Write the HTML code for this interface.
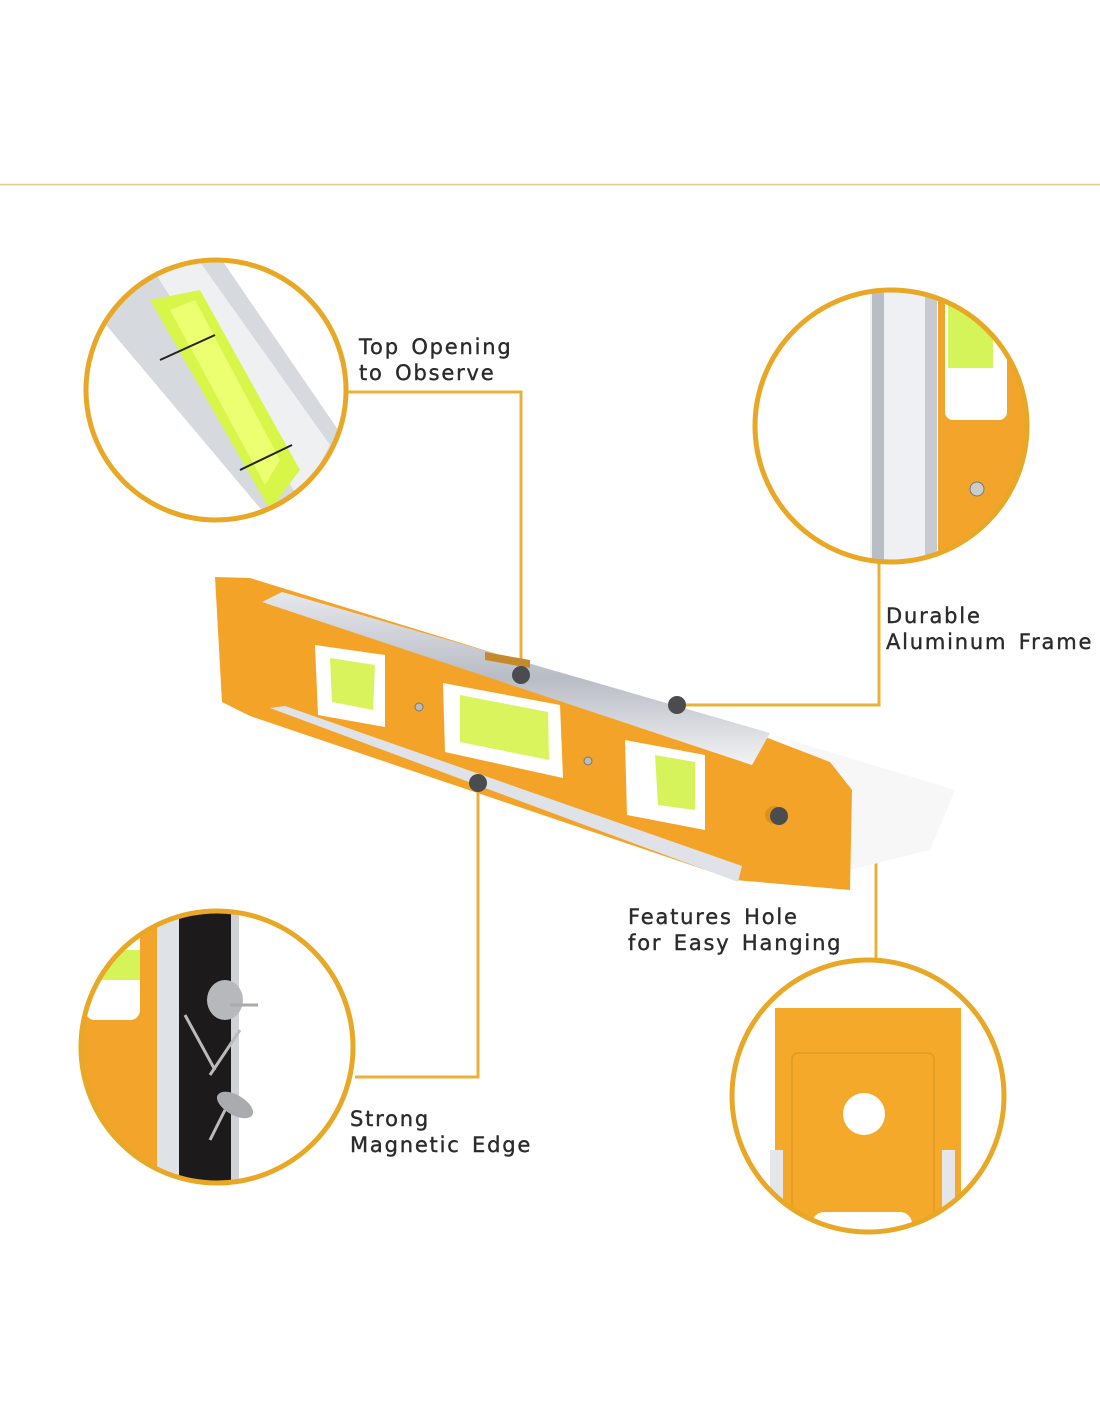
<!DOCTYPE html>
<html><head><style>
html,body{margin:0;padding:0;background:#fff;}
svg{display:block}
text{font-family:"DejaVu Sans","Liberation Sans",sans-serif;font-size:21px;fill:#2b2b2b;stroke:#2b2b2b;stroke-width:0.4;letter-spacing:1.8px;word-spacing:3px}
</style></head><body>
<svg width="1100" height="1422" viewBox="0 0 1100 1422" xmlns="http://www.w3.org/2000/svg">
<defs>
<clipPath id="c1"><circle cx="216" cy="390" r="130"/></clipPath>
<clipPath id="c2"><circle cx="891" cy="426" r="136"/></clipPath>
<clipPath id="c3"><circle cx="217" cy="1047" r="136"/></clipPath>
<clipPath id="c4"><circle cx="868" cy="1096" r="136"/></clipPath>
<linearGradient id="sil" x1="0" y1="0" x2="0" y2="1"><stop offset="0" stop-color="#e6e8ec"/><stop offset="0.5" stop-color="#b8bcc4"/><stop offset="1" stop-color="#f2f3f5"/></linearGradient>
</defs>
<line x1="0" y1="184.5" x2="1100" y2="184.5" stroke="#ecc88a" stroke-width="1.5"/>

<g fill="none" stroke="#eab13a" stroke-width="3">
<polyline points="347,392 521,392 521,675"/>
<polyline points="677,705 879,705 879,563"/>
<polyline points="478,783 478,1077 355,1077"/>
<polyline points="779,816 876,816 876,960"/>
</g>

<g clip-path="url(#c1)">
<rect x="80" y="250" width="280" height="280" fill="#fff"/>
<polygon points="140,250 215,250 345,440 345,520 270,520 85,300" fill="#d6d9de"/>
<polygon points="150,265 200,262 330,445 300,500" fill="#eef0f2"/>
<polygon points="150,300 200,290 300,470 270,510" fill="#d8f54a"/>
<polygon points="170,310 195,300 280,460 265,485" fill="#ecff70"/>
<line x1="160" y1="360" x2="215" y2="335" stroke="#222" stroke-width="2"/>
<line x1="240" y1="470" x2="292" y2="445" stroke="#222" stroke-width="2"/>
</g>
<circle cx="216" cy="390" r="130" fill="none" stroke="#e8a826" stroke-width="5"/>

<g clip-path="url(#c2)">
<rect x="750" y="285" width="285" height="285" fill="#fff"/>
<rect x="870" y="285" width="60" height="285" fill="#eef0f3"/>
<rect x="872" y="285" width="12" height="285" fill="#b9bdc4"/>
<rect x="925" y="285" width="12" height="285" fill="#c7cad0"/>
<rect x="938" y="285" width="100" height="285" fill="#f2a52a"/>
<rect x="945" y="290" width="62" height="130" rx="8" fill="#fff"/>
<rect x="948" y="300" width="45" height="68" fill="#d4f45a"/>
<circle cx="977" cy="489" r="7" fill="#ccc" stroke="#777"/>
</g>
<circle cx="891" cy="426" r="136" fill="none" stroke="#e8a826" stroke-width="5"/>

<g clip-path="url(#c3)">
<rect x="75" y="905" width="290" height="290" fill="#fff"/>
<rect x="75" y="905" width="82" height="290" fill="#f2a52a"/>
<rect x="85" y="920" width="55" height="100" rx="10" fill="#fff"/>
<rect x="90" y="950" width="50" height="30" fill="#d4f45a"/>
<rect x="157" y="905" width="22" height="290" fill="#dfe2e6"/>
<rect x="179" y="905" width="52" height="290" fill="#1c1a1a"/>
<rect x="231" y="905" width="8" height="290" fill="#cfd2d6"/>
<ellipse cx="225" cy="1000" rx="18" ry="20" fill="#b6b8bb"/>
<line x1="230" y1="1005" x2="258" y2="1005" stroke="#aaa" stroke-width="3"/>
<line x1="185" y1="1015" x2="215" y2="1070" stroke="#bbb" stroke-width="3"/>
<line x1="240" y1="1030" x2="210" y2="1075" stroke="#bbb" stroke-width="3"/>
<ellipse cx="235" cy="1105" rx="20" ry="10" transform="rotate(30 235 1105)" fill="#a9abae"/>
<line x1="225" y1="1110" x2="210" y2="1140" stroke="#bbb" stroke-width="3"/>
</g>
<circle cx="217" cy="1047" r="136" fill="none" stroke="#e8a826" stroke-width="5"/>

<g clip-path="url(#c4)">
<rect x="728" y="955" width="285" height="285" fill="#fff"/>
<rect x="775" y="1008" width="186" height="230" fill="#f4a92b"/>
<rect x="792" y="1053" width="142" height="180" rx="6" fill="none" stroke="#e09a22" stroke-width="1.5"/>
<circle cx="864" cy="1114" r="21" fill="#fff"/>
<rect x="770" y="1150" width="13" height="70" fill="#e4e6ea"/>
<rect x="942" y="1150" width="13" height="70" fill="#e4e6ea"/>
<rect x="812" y="1212" width="100" height="30" rx="12" fill="#fff"/>
</g>
<circle cx="868" cy="1096" r="136" fill="none" stroke="#e8a826" stroke-width="5"/>

<polygon points="790,740 955,790 930,850 850,870" fill="#f7f7f8"/>
<polygon points="215,577 250,578 760,735 830,762 852,790 850,890 735,880 250,716 222,702" fill="#f3a428"/>
<polygon points="262,602 282,592 770,733 752,765" fill="url(#sil)"/>
<polygon points="270,708 285,706 742,866 738,882" fill="#dfe2e6"/>
<polygon points="315,645 385,655 385,727 318,715" fill="#fff"/>
<polygon points="330,658 375,665 373,710 332,702" fill="#d8f35c"/>
<polygon points="443,683 560,705 563,778 445,752" fill="#fff"/>
<polygon points="460,695 548,712 549,760 460,742" fill="#d9f45c"/>
<polygon points="625,740 705,755 705,830 627,815" fill="#fff"/>
<polygon points="655,755 695,762 695,810 658,805" fill="#d6f35c"/>
<polygon points="485,652 530,660 530,668 485,660" fill="#c58a2c"/>
<circle cx="419" cy="707" r="4" fill="#bbb" stroke="#777"/>
<circle cx="588" cy="761" r="4" fill="#bbb" stroke="#777"/>
<circle cx="774" cy="815" r="9" fill="#e08f1f"/>

<g fill="#4a4c50">
<circle cx="521" cy="675" r="9"/>
<circle cx="677" cy="705" r="9"/>
<circle cx="478" cy="783" r="9"/>
<circle cx="779" cy="816" r="9"/>
</g>

<text x="359" y="354">Top Opening</text>
<text x="359" y="380">to Observe</text>
<text x="886" y="623">Durable</text>
<text x="886" y="649">Aluminum Frame</text>
<text x="628" y="924">Features Hole</text>
<text x="628" y="950">for Easy Hanging</text>
<text x="350" y="1126">Strong</text>
<text x="350" y="1152">Magnetic Edge</text>
</svg>
</body></html>
